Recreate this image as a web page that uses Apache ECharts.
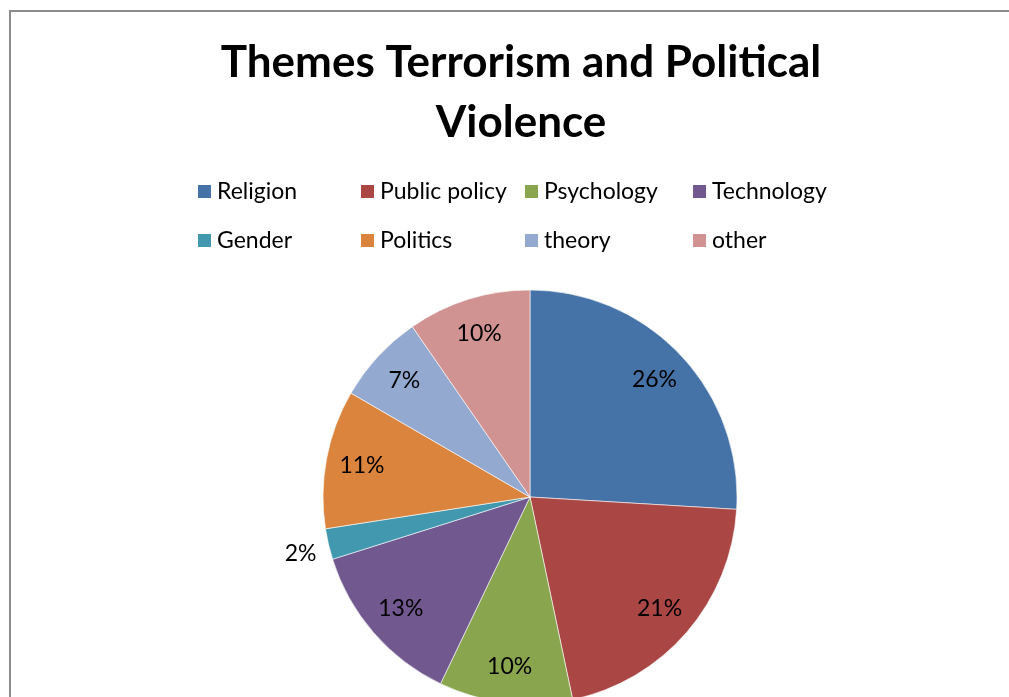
<!DOCTYPE html>
<html>
<head>
<meta charset="utf-8">
<script src="https://cdn.jsdelivr.net/npm/echarts@6/dist/echarts.min.js"></script>
<style>html,body{margin:0;padding:0;background:#fff;}#chart{width:1009px;height:697px;}</style>
</head>
<body>
<div id="chart"></div>
<script>
const titleText = 'Themes Terrorism and Political\nViolence';
const categories = ['Religion', 'Public policy', 'Psychology', 'Technology', 'Gender', 'Politics', 'theory', 'other'];
const values = [25.9, 20.7, 10.4, 13.0, 2.4, 10.8, 7.0, 9.6];
const colors = ['#4572A7', '#AA4643', '#89A54E', '#71588F', '#4198AF', '#DB843D', '#93A9CF', '#D19392'];
const outsideLabelCats = ['Gender'];

const FONT = 'Lato';
const legendColLefts = [196, 359, 523, 691];
const legendRowTops = [180, 229];

const chart = echarts.init(document.getElementById('chart'));

const baseData = categories.map((c, i) => ({ name: c, value: values[i], itemStyle: { color: colors[i] } }));
const labelData = categories.map((c, i) => {
  const item = { name: c, value: values[i] };
  if (outsideLabelCats.includes(c)) {
    item.label = { position: 'outside', offset: [-3, 9] };
    item.labelLine = { show: false, length: 4, length2: 0 };
  }
  return item;
});

const legends = categories.map((c, i) => ({
  orient: 'horizontal',
  left: legendColLefts[i % 4],
  top: legendRowTops[Math.floor(i / 4)],
  padding: 0,
  itemWidth: 15,
  itemHeight: 15,
  itemGap: 0,
  icon: 'rect',
  textStyle: { fontFamily: FONT, fontSize: 23, color: '#000', padding: [0, 0, 0, 0] },
  selectedMode: false,
  data: [c]
}));

chart.setOption({
  backgroundColor: '#fff',
  animation: false,
  color: colors,
  title: {
    text: titleText,
    left: 516,
    textAlign: 'center',
    top: 28,
    textStyle: { fontFamily: FONT, fontWeight: 'bold', fontSize: 44, lineHeight: 60, color: '#000' }
  },
  legend: legends,
  graphic: [{
    type: 'rect',
    shape: { x: 10, y: 11, width: 1200, height: 1000 },
    style: { fill: 'none', stroke: '#8c8c8c', lineWidth: 2 },
    silent: true, z: -1
  }],
  series: [
    {
      type: 'pie',
      center: [530, 497],
      radius: [0, 207],
      startAngle: 90,
      clockwise: true,
      label: { show: false },
      labelLine: { show: false },
      itemStyle: { borderColor: '#fff', borderWidth: 0.6 },
      emphasis: { disabled: true },
      data: baseData
    },
    {
      type: 'pie',
      center: [530, 497],
      radius: [129, 207],
      startAngle: 90,
      clockwise: true,
      silent: true,
      itemStyle: { color: 'rgba(0,0,0,0)', borderWidth: 0 },
      label: {
        show: true,
        position: 'inside',
        fontFamily: FONT,
        fontSize: 23,
        color: '#000',
        formatter: p => Math.round(p.percent) + '%'
      },
      labelLine: { show: false },
      emphasis: { disabled: true },
      data: labelData
    }
  ]
});
</script>
</body>
</html>
